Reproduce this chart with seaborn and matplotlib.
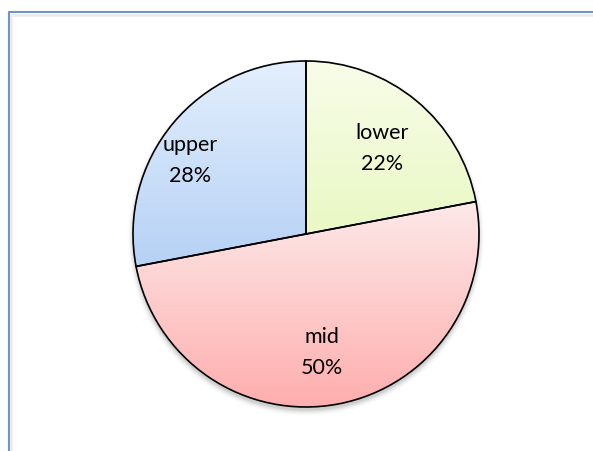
import numpy as np
import matplotlib
matplotlib.use("Agg")
import matplotlib.pyplot as plt
from matplotlib.colors import LinearSegmentedColormap
from matplotlib.lines import Line2D
from matplotlib.patches import Circle
import seaborn as sns

# Share of each band
categories = ["lower", "mid", "upper"]
shares = [22, 50, 28]

# Top / bottom shades of the gradient fill for each band
top_colors = ["#f8fde9", "#fde9e9", "#e3effd"]
bottom_colors = ["#e9f8c4", "#ffacac", "#b6d1f5"]

sns.set_theme(style="white")
plt.rcParams["font.family"] = ["Lato", "DejaVu Sans"]

W, H, DPI = 593, 452, 100
fig = plt.figure(figsize=(W / DPI, H / DPI), dpi=DPI)
fig.patch.set_facecolor("white")

cx, cy, R = 306, 235, 173
ax = fig.add_axes([(cx - R) / W, (H - cy - R) / H, 2 * R / W, 2 * R / H])

wedges, _ = ax.pie(
    shares,
    startangle=90,
    counterclock=False,
    radius=1.0,
    wedgeprops=dict(edgecolor="black", linewidth=1.2, facecolor="none", zorder=3),
)
ax.set_xlim(-1, 1)
ax.set_ylim(-1, 1)
ax.set_axis_off()

# soft drop shadow under the pie
for i, a in enumerate(np.linspace(0.05, 0.012, 6)):
    ax.add_patch(Circle((0.0, -0.02), 1.0 + 0.006 * i, facecolor="black",
                        edgecolor="none", alpha=a, zorder=0, clip_on=False))
ax.add_patch(Circle((0, 0), 1.0, facecolor="white", edgecolor="none", zorder=0.5))

# vertical gradient fill spanning each wedge's own extent
grad = np.linspace(0, 1, 256).reshape(-1, 1)
for w, c0, c1 in zip(wedges, top_colors, bottom_colors):
    verts = w.get_path().vertices
    x0, x1 = verts[:, 0].min(), verts[:, 0].max()
    y0, y1 = verts[:, 1].min(), verts[:, 1].max()
    cmap = LinearSegmentedColormap.from_list("g", [c0, c1])
    im = ax.imshow(grad, cmap=cmap, extent=[x0, x1, y0, y1], origin="upper",
                   aspect="auto", zorder=2, interpolation="bilinear")
    im.set_clip_path(w)
ax.set_xlim(-1, 1)
ax.set_ylim(-1, 1)

# label text for each wedge
label_pos = {"lower": (0.44, 0.50), "mid": (0.09, -0.68), "upper": (-0.67, 0.43)}
for name, val in zip(categories, shares):
    x, y = label_pos[name]
    ax.text(x, y, f"{name}\n{val}%", ha="center", va="center", fontsize=15.5,
            color="black", linespacing=1.65, zorder=5)

# chart-area frame
blue = "#6e95c9"
fig.add_artist(Line2D([11 / W, 1], [1 - 15.5 / H, 1 - 15.5 / H], transform=fig.transFigure,
                      color="#ececec", linewidth=2.0, zorder=-1))
fig.add_artist(Line2D([11 / W, 11 / W], [0, 1 - 15.5 / H], transform=fig.transFigure,
                      color="#ececec", linewidth=2.0, zorder=-1))
fig.add_artist(Line2D([8.5 / W, 8.5 / W], [0, 1 - 13 / H], transform=fig.transFigure,
                      color=blue, linewidth=1.5))
fig.add_artist(Line2D([8.5 / W, 1], [1 - 13 / H, 1 - 13 / H], transform=fig.transFigure,
                      color=blue, linewidth=1.5))

fig.savefig("out.png", dpi=DPI, facecolor="white")
